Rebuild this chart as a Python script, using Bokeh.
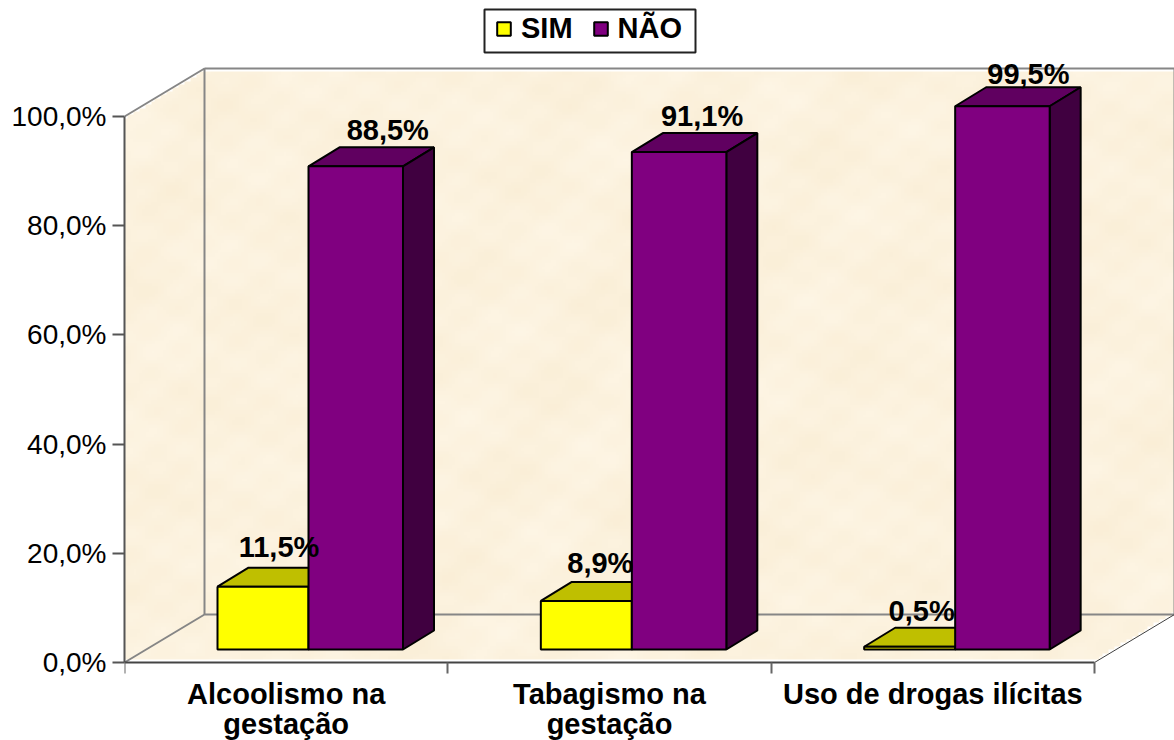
import numpy as np
from bokeh.plotting import figure
from bokeh.models import Range1d, FixedTicker, Legend, LegendItem, ColumnDataSource
from bokeh.core.properties import value
from bokeh.embed import file_html
from bokeh.resources import INLINE

categories = ["Alcoolismo na\ngestação", "Tabagismo na\ngestação", "Uso de drogas ilícitas"]
sim = [11.5, 8.9, 0.5]
nao = [88.5, 91.1, 99.5]
y_ticks = [0, 20, 40, 60, 80, 100]
y_tick_labels = ["0,0%", "20,0%", "40,0%", "60,0%", "80,0%", "100,0%"]

# layout constants (screen pixels of the plot frame)
PX_X, PX_Y = 970 / 3, 5.46
FONT = value("Liberation Sans")
W, H = 1174, 740
LEFT = 124
AXIS_Y = 662  # screen row of the 0 % line
xmax = (W - LEFT) / PX_X
ymax = AXIS_Y / PX_Y
ymin = -(H - AXIS_Y) / PX_Y
WALL_DX, WALL_DY = 80 / PX_X, 48 / PX_Y
BAR_DX, BAR_DY = 31 / PX_X, 19 / PX_Y
BAR_BASE = 13 / PX_Y
BAR_LEFT, SIM_W, NAO_W = 93 / PX_X, 91 / PX_X, 94.5 / PX_X

p = figure(width=W, height=H, output_backend="svg", toolbar_location=None,
           x_range=Range1d(0, xmax), y_range=Range1d(ymin, ymax),
           min_border_left=LEFT, min_border_right=0, min_border_top=0, min_border_bottom=0,
           background_fill_color="white", border_fill_color="white", outline_line_color=None)
p.grid.visible = False

# parchment texture, clipped to the walls and the floor
nx, ny = 350, 220
gx, gy = np.meshgrid(np.linspace(0, xmax, nx), np.linspace(ymin, ymax, ny))
shade = (np.sin(gx * 9 + gy * .11) * np.cos(gy * .23 - gx * 4) + .6 * np.sin(gx * 23 + gy * .37 + 1)
         * np.sin(gy * .51 + gx * 7) + .35 * np.cos(gx * 41 - gy * .83))
shade = shade / 2
inside = ((gy <= 100 + gx * WALL_DY / WALL_DX) & (gy <= 100 + WALL_DY) & (gy >= 0)
          & (gy >= (gx - 3) * WALL_DY / WALL_DX))
img = np.zeros((ny, nx), dtype=np.uint32)
view = img.view(dtype=np.uint8).reshape((ny, nx, 4))
view[..., 0] = np.clip(252 + 2 * shade, 0, 255)
view[..., 1] = np.clip(242 + 4 * shade, 0, 255)
view[..., 2] = np.clip(222 + 8 * shade, 0, 255)
view[..., 3] = np.where(inside, 255, 0)
p.image_rgba(image=[img], x=0, y=ymin, dw=xmax, dh=ymax - ymin)

# wall edges
grey = "#868686"
p.line([0, WALL_DX, WALL_DX], [100, 100 + WALL_DY, WALL_DY], line_color=grey, line_width=2)
p.line([WALL_DX, xmax], [100 + WALL_DY] * 2, line_color=grey, line_width=2)
p.line([xmax, xmax], [WALL_DY, 100 + WALL_DY], line_color=grey, line_width=2)
p.line([0, WALL_DX, xmax], [0, WALL_DY, WALL_DY], line_color=grey, line_width=2)
p.line([3, 3 + WALL_DX], [0, WALL_DY], line_color="#404040", line_width=1)


def faces(lefts, widths, vals):
    fx, fy, tx, ty, sx, sy = [], [], [], [], [], []
    for l, w, v in zip(lefts, widths, vals):
        r, b, t = l + w, BAR_BASE, BAR_BASE + v
        fx.append([l, r, r, l]); fy.append([b, b, t, t])
        tx.append([l, r, r + BAR_DX, l + BAR_DX]); ty.append([t, t, t + BAR_DY, t + BAR_DY])
        sx.append([r, r + BAR_DX, r + BAR_DX, r]); sy.append([b, b + BAR_DY, t + BAR_DY, t])
    return fx, fy, tx, ty, sx, sy


idx = np.arange(len(categories))
style = dict(line_color="black", line_width=2)

for lefts, widths, vals, front, top, side, name in [
    (idx + BAR_LEFT, [SIM_W] * 3, sim, "#FFFF00", "#BFBF00", "#808000", "sim"),
    (idx + BAR_LEFT + SIM_W, [NAO_W] * 3, nao, "#800080", "#600060", "#400040", "nao"),
]:
    fx, fy, tx, ty, sx, sy = faces(lefts, widths, vals)
    p.patches(tx, ty, fill_color=top, **style)
    p.patches(sx, sy, fill_color=side, **style)
    r = p.patches(fx, fy, fill_color=front, **style)
    if name == "sim":
        r_sim = r
    else:
        r_nao = r

# data labels
label_dx_sim = [16, 14, 12]
label_dx_nao = [32, 23, 26]
label_up_sim = [21, 19, 17]
label_up_nao = [17, 17, 13]
lx = list(idx + BAR_LEFT + SIM_W / 2) + list(idx + BAR_LEFT + SIM_W + NAO_W / 2)
ly = [v + BAR_BASE + BAR_DY for v in sim + nao]
src = ColumnDataSource(dict(x=lx, y=ly, t=[f"{v:.1f}%".replace(".", ",") for v in sim + nao],
                            dx=label_dx_sim + label_dx_nao, dy=[-u for u in label_up_sim + label_up_nao]))
p.text("x", "y", "t", source=src, x_offset="dx", y_offset="dy", text_font=FONT, text_font_style="bold",
       text_font_size="29px", text_color="black", text_align="center", text_baseline="alphabetic")

# category labels, one entry per line
cat_x, cat_t, cat_dy = [], [], []
for i, c in enumerate(categories):
    for j, line in enumerate(c.split("\n")):
        cat_x.append(i + .5); cat_t.append(line); cat_dy.append(31 + 30 * j)
p.text("x", "y", "t", source=ColumnDataSource(dict(x=cat_x, y=[0] * len(cat_x), t=cat_t, dy=cat_dy)),
       y_offset="dy", text_font=FONT, text_font_style="bold", text_font_size="29px",
       text_color="black", text_align="center", text_baseline="alphabetic")

# axes
ya = p.yaxis[0]
ya.ticker = FixedTicker(ticks=y_ticks)
ya.bounds = (0, 100)
ya.major_label_overrides = dict(zip(y_ticks, y_tick_labels))
ya.minor_tick_line_color = None
ya.major_tick_in, ya.major_tick_out = 0, 12
ya.axis_line_color = ya.major_tick_line_color = "#555555"
ya.axis_line_width = ya.major_tick_line_width = 2
ya.major_label_standoff = 6
ya.major_label_text_font = "Liberation Sans"
ya.major_label_text_font_size = "28px"
ya.major_label_text_color = "black"

xa = p.xaxis[0]
xa.fixed_location = 0
xa.ticker = FixedTicker(ticks=[], minor_ticks=[0, 1, 2, 3])
xa.bounds = (0, 3)
xa.major_tick_line_color = None
xa.minor_tick_in, xa.minor_tick_out = 0, 11
xa.minor_tick_line_color = "#666666"
xa.minor_tick_line_width = 2
xa.axis_line_color = "#444444"
xa.axis_line_width = 2

# legend: box behind a borderless legend
p.quad(left=[360 / PX_X], right=[571 / PX_X], bottom=[(AXIS_Y - 52) / PX_Y], top=[(AXIS_Y - 9) / PX_Y],
       fill_color="white", line_color="#222222", line_width=2)
legend = Legend(items=[LegendItem(label="SIM", renderers=[r_sim], index=0),
                       LegendItem(label="NÃO", renderers=[r_nao], index=0)],
                orientation="horizontal", location=(371, 695), margin=0, padding=0, spacing=19,
                glyph_width=17, glyph_height=17, label_standoff=9,
                label_text_font="Liberation Sans", label_text_font_style="bold", label_text_font_size="29px",
                label_text_color="black", border_line_color=None, background_fill_alpha=0)
p.add_layout(legend, "center")

open("out.html", "w").write(file_html(p, INLINE))
